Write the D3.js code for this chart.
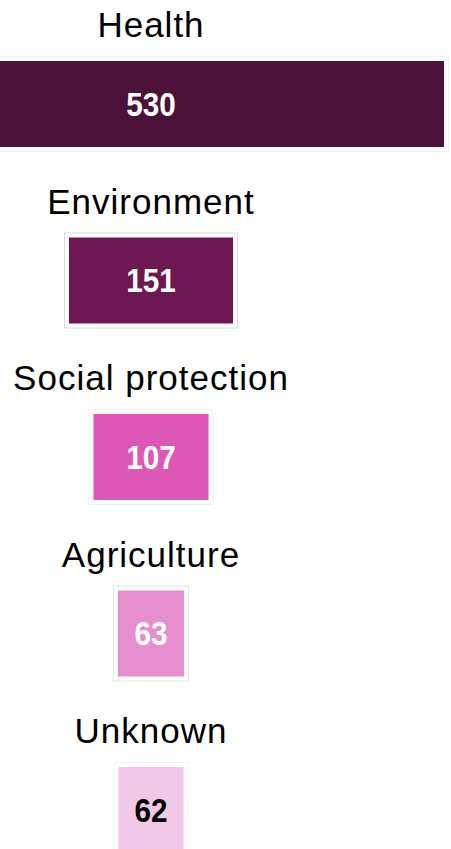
<!DOCTYPE html>
<html>
<head>
<meta charset="utf-8">
<script src="https://cdn.jsdelivr.net/npm/d3@7/dist/d3.min.js"></script>
<style>
  html, body { margin: 0; padding: 0; background: #ffffff; overflow: hidden; }
  svg { display: block; }
</style>
</head>
<body>
<div id="chart"></div>
<script>
// ---- data ----
const categories = ["Health", "Environment", "Social protection", "Agriculture", "Unknown"];
const values = [530, 151, 107, 63, 62];
const fillColors = ["#4b1139", "#6d1752", "#dd57b6", "#e78fce", "#f2c8e8"];
const valueTextColors = ["#ffffff", "#ffffff", "#ffffff", "#ffffff", "#000000"];
const frameColors = ["#f0f0f0", "#d9d9d9", "#f0f0f0", "#e6e6e6", "#f4f4f4"];

// ---- layout ----
const W = 451, H = 849;
const centerX = 151;
const barH = 86;
const labelGap = 24;
const inset = 2;
const frameInset = 4.5;

const svg = d3.select("#chart").append("svg")
  .attr("width", W).attr("height", H);

const rows = d3.scaleBand().domain(categories).range([-1, -1 + 176.5 * categories.length]);
const w = d3.scaleLinear().domain([0, 530]).range([0, 590]);

const data = categories.map((c, i) => ({ c, v: values[i], fill: fillColors[i], tc: valueTextColors[i], fc: frameColors[i] }));

const g = svg.selectAll("g.row").data(data).enter().append("g")
  .attr("class", "row")
  .attr("transform", d => `translate(0,${rows(d.c) + 62})`);

// faint frame
g.append("rect")
  .attr("x", d => centerX - w(d.v) / 2 + inset - frameInset)
  .attr("y", -frameInset)
  .attr("width", d => w(d.v) - 2 * inset + 2 * frameInset)
  .attr("height", barH + 2 * frameInset)
  .attr("fill", "#ffffff")
  .attr("stroke", d => d.fc)
  .attr("stroke-width", 1);

// bar
g.append("rect")
  .attr("x", d => centerX - w(d.v) / 2 + inset)
  .attr("y", 0)
  .attr("width", d => w(d.v) - 2 * inset)
  .attr("height", barH)
  .attr("fill", d => d.fill);

// category label
g.append("text")
  .attr("x", centerX)
  .attr("y", -labelGap)
  .attr("text-anchor", "middle")
  .style("font-family", "'Liberation Sans', Arial, sans-serif")
  .style("font-size", "35px")
  .style("letter-spacing", "1px")
  .attr("fill", "#000000")
  .text(d => d.c);

// value label
g.append("text")
  .attr("transform", `translate(${centerX},${barH / 2}) scale(0.9,1)`)
  .attr("dy", "0.36em")
  .attr("text-anchor", "middle")
  .style("font-family", "'Liberation Sans', Arial, sans-serif")
  .style("font-size", "33px")
  .style("font-weight", "bold")
  .attr("fill", d => d.tc)
  .text(d => d.v);
</script>
</body>
</html>
